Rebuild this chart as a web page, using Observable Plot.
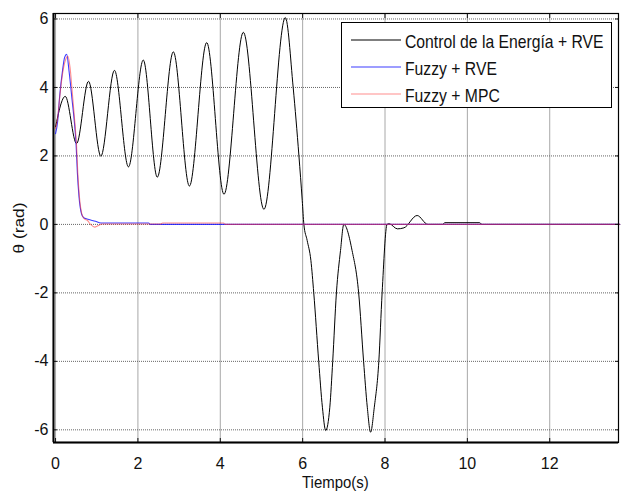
<!DOCTYPE html>
<html>
<head>
<meta charset="utf-8">
<script src="https://cdn.jsdelivr.net/npm/d3@7"></script>
<script src="https://cdn.jsdelivr.net/npm/@observablehq/plot@0.6"></script>
<style>
  html, body { margin: 0; padding: 0; background: #fff; }
  #wrap { position: relative; width: 621px; height: 492px; font-family: "Liberation Sans", Arial, sans-serif; }
  #legend { position: absolute; left: 341px; top: 22px; width: 271px; height: 86px; border: 1px solid #000; background: #fff; box-sizing: border-box; }
  .row { position: absolute; left: 0; height: 20px; width: 100%; }
  .row svg { position: absolute; left: 9px; top: 0; }
  .row span { position: absolute; left: 63px; top: 0; font-size: 18.5px; line-height: 20px; white-space: nowrap; transform: scaleX(0.85); transform-origin: left center; color: #111; }
  #xtitle { position: absolute; left: 0; width: 671px; top: 474px; text-align: center; font-size: 17px; line-height: 18px; transform: scaleX(0.88); transform-origin: 335px 0; color: #111; }
  #ytitle { position: absolute; left: 18px; top: 228px; font-size: 15px; white-space: nowrap; transform: translate(-50%, -50%) rotate(-90deg) scaleX(1.15); color: #111; }
</style>
</head>
<body>
<div id="wrap"></div>
<script>
// ---- data ----
const seriesNames = ["Control de la Energía + RVE", "Fuzzy + RVE", "Fuzzy + MPC"];
const seriesColors = ["#000000", "#1a1aff", "#ff3030"];

const tEnergia = [0, 0.235, 0.51, 0.8, 1.1, 1.43, 1.77, 2.13, 2.47, 2.86, 3.25, 3.67, 4.09, 4.56, 5.06, 5.58,
  5.77, 5.91, 5.99, 6.03, 6.11, 6.2, 6.27, 6.39, 6.48, 6.56, 6.66, 6.73, 6.82, 6.92, 7.0,
  7.2, 7.36, 7.48, 7.57, 7.65, 7.74, 7.85, 7.93, 8.05, 8.1, 8.3, 8.46, 8.78, 9.04, 9.4, 9.45, 10.3, 10.35, 13.7];
const thetaEnergia = [2.85, 3.74, 2.36, 4.18, 1.99, 4.5, 1.68, 4.8, 1.38, 5.04, 1.12, 5.31, 0.88, 5.61, 0.44, 6.04,
  4.0, 2.0, 0.7, 0.0, -0.47, -1.05, -2.0, -4.0, -5.34, -6.02, -5.34, -4.0, -2.0, -0.76, 0.0,
  -0.76, -2.0, -4.0, -5.34, -6.07, -5.34, -4.0, -2.0, 0.0, 0.02, -0.13, -0.1, 0.26, 0.0, 0.0, 0.05, 0.05, 0.0, 0.0];

const tFuzzyRVE = [0, 0.05, 0.1, 0.17, 0.22, 0.27, 0.33, 0.4, 0.46, 0.5, 0.53, 0.57, 0.63, 0.68, 0.73, 0.85, 0.97, 1.1, 2.26, 2.3, 13.7];
const thetaFuzzyRVE = [2.65, 3.0, 3.75, 4.5, 4.88, 4.97, 4.45, 3.65, 2.95, 2.3, 1.5, 0.8, 0.31, 0.2, 0.17, 0.13, 0.09, 0.04, 0.04, 0.0, 0.0];

const tFuzzyMPC = [0, 0.05, 0.1, 0.17, 0.24, 0.3, 0.35, 0.41, 0.47, 0.51, 0.54, 0.58, 0.64, 0.7, 0.77, 0.85, 0.95, 1.03, 1.13, 2.55, 2.6, 4.08, 4.12, 13.7];
const thetaFuzzyMPC = [2.8, 3.1, 3.7, 4.4, 4.8, 4.91, 4.6, 3.8, 2.95, 2.3, 1.5, 0.8, 0.3, 0.16, 0.12, 0.0, -0.08, -0.04, 0.01, 0.01, 0.04, 0.04, 0.0, 0.0];

const xTicks = [0, 2, 4, 6, 8, 10, 12];
const yTicks = [-6, -4, -2, 0, 2, 4, 6];
const xDomain = [-0.05, 13.67];
const yDomain = [-6.37, 6.16];

const toRows = (ts, ys) => ts.map((t, i) => ({t, v: ys[i]}));
const dEnergia = toRows(tEnergia, thetaEnergia);
const dRVE = toRows(tFuzzyRVE, thetaFuzzyRVE);
const dMPC = toRows(tFuzzyMPC, thetaFuzzyMPC);

const chart = Plot.plot({
  width: 621,
  height: 492,
  marginLeft: 53,
  marginRight: 3,
  marginTop: 13,
  marginBottom: 50,
  x: {domain: xDomain},
  y: {domain: yDomain},
  style: {fontFamily: "'Liberation Sans', Arial, sans-serif", fontSize: "16px", background: "white", color: "#111"},
  marks: [
    Plot.gridX(xTicks, {stroke: "#a8a8a8", strokeOpacity: 1, strokeWidth: 1}),
    Plot.gridY(yTicks, {stroke: "#666", strokeOpacity: 1, strokeDasharray: "1,1"}),
    Plot.line(dEnergia, {x: "t", y: "v", stroke: seriesColors[0], strokeWidth: 1, curve: "monotone-x"}),
    Plot.line(dRVE, {x: "t", y: "v", stroke: seriesColors[1], strokeWidth: 1.1, strokeOpacity: 0.85, curve: "monotone-x"}),
    Plot.line(dMPC, {x: "t", y: "v", stroke: seriesColors[2], strokeWidth: 1.1, strokeOpacity: 0.55, curve: "monotone-x"}),
    Plot.axisX(xTicks, {anchor: "bottom", tickSize: -4, tickPadding: 19, label: null, tickFormat: d => String(d)}),
    Plot.axisX(xTicks, {anchor: "top", tickSize: -4, tickFormat: () => "", label: null}),
    Plot.axisY(yTicks, {anchor: "left", tickSize: -4, tickPadding: 9, label: null, tickFormat: d => String(d)}),
    Plot.axisY(yTicks, {anchor: "right", tickSize: -4, tickFormat: () => "", label: null}),
    Plot.frame({stroke: "#000", strokeWidth: 1.2}),
    Plot.ruleX([xDomain[0]], {stroke: "#000", strokeWidth: 2}),
    Plot.ruleY([yDomain[0]], {stroke: "#000", strokeWidth: 2})
  ]
});

const wrap = document.getElementById("wrap");
wrap.appendChild(chart);

// legend
const legend = document.createElement("div");
legend.id = "legend";
const rowTops = [9, 36, 63];
seriesNames.forEach((name, i) => {
  const row = document.createElement("div");
  row.className = "row";
  row.style.top = rowTops[i] + "px";
  const op = i === 0 ? 1 : (i === 1 ? 0.85 : 0.55);
  row.innerHTML = `<svg width="52" height="20"><line x1="0" x2="50" y1="8" y2="8" stroke="${seriesColors[i]}" stroke-opacity="${op}" stroke-width="1.1"/></svg><span>${name}</span>`;
  legend.appendChild(row);
});
wrap.appendChild(legend);

const xt = document.createElement("div");
xt.id = "xtitle";
xt.textContent = "Tiempo(s)";
wrap.appendChild(xt);

const yt = document.createElement("div");
yt.id = "ytitle";
yt.textContent = "θ (rad)";
wrap.appendChild(yt);
</script>
</body>
</html>
